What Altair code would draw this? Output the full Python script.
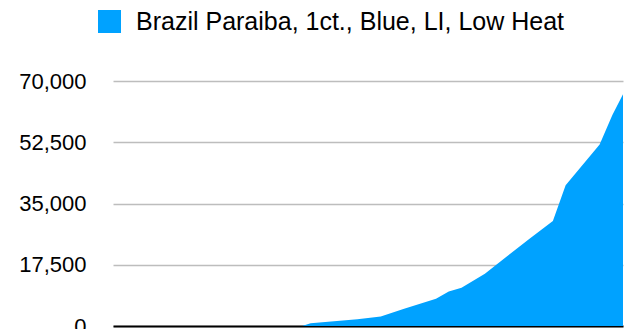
import altair as alt
import pandas as pd

series_name = "Brazil Paraiba, 1ct., Blue, LI, Low Heat"
years = [2008.9, 2009.3, 2011.5, 2012.6, 2013.7, 2015.2, 2015.8, 2016.4,
         2017.5, 2018.5, 2019.6, 2020.7, 2021.3, 2022.9, 2023.5, 2024.0]
prices = [0, 800, 1950, 2720, 4920, 7790, 9880, 10940,
          14950, 19700, 24960, 30000, 40220, 51870, 60260, 66190]
y_ticks = [0, 17500, 35000, 52500, 70000]

df = pd.DataFrame({"year": years, "price": prices, "series": [series_name] * len(years)})

FONT = "Liberation Sans"

chart = alt.Chart(df).mark_area(color="#00A2FF", opacity=1, interpolate="linear").encode(
    x=alt.X("year:Q",
            scale=alt.Scale(domain=[2000, 2024], nice=False, zero=False),
            axis=alt.Axis(title=None, labels=False, ticks=False, grid=False,
                          domain=True, domainColor="#000000", domainWidth=2)),
    y=alt.Y("price:Q",
            scale=alt.Scale(domain=[0, 70000], nice=False),
            axis=alt.Axis(title=None, values=y_ticks, format=",.0f", domain=False,
                          ticks=False, labelPadding=27, labelFontSize=22,
                          labelFont=FONT, labelColor="#000000",
                          gridColor="#bdbdbd", gridWidth=1.5)),
    color=alt.Color("series:N",
                    scale=alt.Scale(range=["#00A2FF"]),
                    legend=alt.Legend(title=None, orient="none", legendX=-16, legendY=-72,
                                      symbolType="square", symbolSize=529,
                                      symbolOpacity=1, symbolStrokeWidth=0,
                                      labelFontSize=25, labelFont=FONT,
                                      labelColor="#000000", labelOffset=14,
                                      labelLimit=0, padding=0)),
).properties(
    width=510,
    height=245,
    autosize=alt.AutoSizeParams(type="none"),
    padding={"left": 113, "top": 81, "right": 17, "bottom": 3},
).configure_view(stroke=None)

chart.save("out.html", embed_options={"renderer": "svg", "actions": False})
